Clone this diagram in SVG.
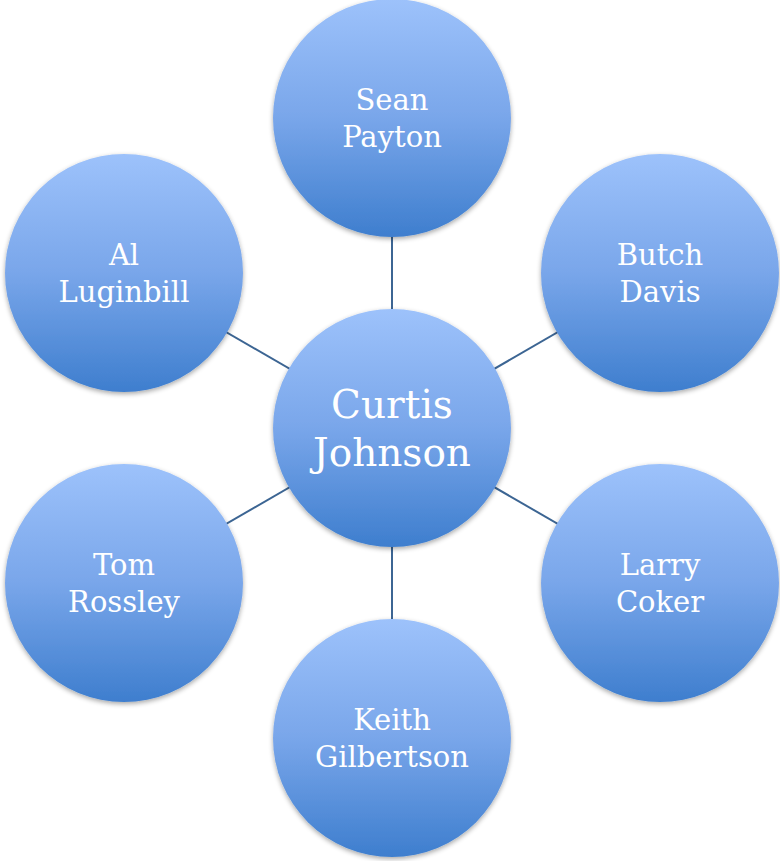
<svg xmlns="http://www.w3.org/2000/svg" width="780" height="861" viewBox="0 0 780 861">
  <style>
    .node circle { fill: url(#g); filter: url(#sh); }
    .lbl { font-family: "DejaVu Serif", "Liberation Serif", serif; fill: #ffffff; text-anchor: middle; font-size: 29px; }
    .big { font-size: 39px; }
    .conn line { stroke: #3C6593; stroke-width: 2; }
  </style>
  <defs>
    <linearGradient id="g" x1="0" y1="0" x2="0" y2="1">
      <stop offset="0" stop-color="#9DC2FB"/>
      <stop offset="0.5" stop-color="#79A6EA"/>
      <stop offset="1" stop-color="#3E7ECE"/>
    </linearGradient>
    <filter id="sh" x="-20%" y="-20%" width="140%" height="140%">
      <feGaussianBlur in="SourceAlpha" stdDeviation="2.5"/>
      <feOffset dx="0" dy="2" result="b"/>
      <feComponentTransfer><feFuncA type="linear" slope="0.35"/></feComponentTransfer>
      <feMerge><feMergeNode/><feMergeNode in="SourceGraphic"/></feMerge>
    </filter>
  </defs>
  <rect width="780" height="861" fill="#ffffff"/>
  <g id="connectors" class="conn">
    <line x1="392" y1="428" x2="392" y2="118"/>
    <line x1="392" y1="428" x2="660" y2="273"/>
    <line x1="392" y1="428" x2="660" y2="583"/>
    <line x1="392" y1="428" x2="392" y2="738"/>
    <line x1="392" y1="428" x2="124" y2="583"/>
    <line x1="392" y1="428" x2="124" y2="273"/>
  </g>
  <g id="n-sean" class="node">
    <circle cx="392" cy="118" r="119"/>
    <text class="lbl" x="392" y="110">Sean</text>
    <text class="lbl" x="392" y="147">Payton</text>
  </g>
  <g id="n-butch" class="node">
    <circle cx="660" cy="273" r="119"/>
    <text class="lbl" x="660" y="265">Butch</text>
    <text class="lbl" x="660" y="302">Davis</text>
  </g>
  <g id="n-larry" class="node">
    <circle cx="660" cy="583" r="119"/>
    <text class="lbl" x="660" y="575">Larry</text>
    <text class="lbl" x="660" y="612">Coker</text>
  </g>
  <g id="n-keith" class="node">
    <circle cx="392" cy="738" r="119"/>
    <text class="lbl" x="392" y="730">Keith</text>
    <text class="lbl" x="392" y="767">Gilbertson</text>
  </g>
  <g id="n-tom" class="node">
    <circle cx="124" cy="583" r="119"/>
    <text class="lbl" x="124" y="575">Tom</text>
    <text class="lbl" x="124" y="612">Rossley</text>
  </g>
  <g id="n-al" class="node">
    <circle cx="124" cy="273" r="119"/>
    <text class="lbl" x="124" y="265">Al</text>
    <text class="lbl" x="124" y="302">Luginbill</text>
  </g>
  <g id="n-curtis" class="node">
    <circle cx="392" cy="428" r="119"/>
    <text class="lbl big" x="392" y="418">Curtis</text>
    <text class="lbl big" x="392" y="466">Johnson</text>
  </g>
</svg>
